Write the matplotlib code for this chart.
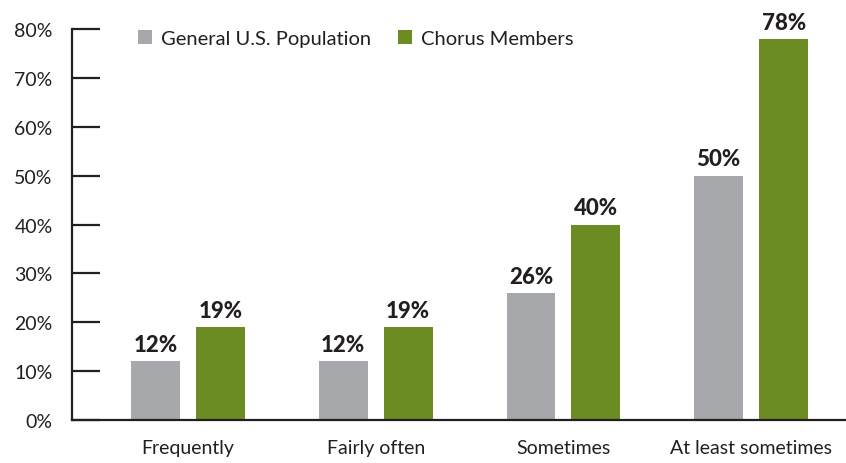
import matplotlib.pyplot as plt
import numpy as np

plt.rcParams['font.family'] = ['Lato', 'DejaVu Sans']

categories = ['Frequently', 'Fairly often', 'Sometimes', 'At least sometimes']
general_pop = [12, 12, 26, 50]
chorus = [19, 19, 40, 78]
series_names = ['General U.S. Population', 'Chorus Members']

GRAY = '#a7a8ab'
GREEN = '#6b8c23'
INK = '#231f20'

fig = plt.figure(figsize=(8.46, 4.64), dpi=100)
ax = fig.add_axes([0.0851, 0.0927, 0.9149, 0.8423])

x = np.arange(len(categories))
w = 0.26
off = 0.173
b1 = ax.bar(x - off, general_pop, w, color=GRAY, label=series_names[0])
b2 = ax.bar(x + off, chorus, w, color=GREEN, label=series_names[1])

for bars, vals in ((b1, general_pop), (b2, chorus)):
    for r, v in zip(bars, vals):
        ax.text(r.get_x() + r.get_width() / 2, v + 1.3, '%d%%' % v,
                ha='center', va='bottom', fontsize=16, fontweight='black', color=INK)

ax.set_xlim(-0.617, 3.505)
ax.set_ylim(0, 80)
ax.set_yticks(range(0, 81, 10))
ax.set_yticklabels(['%d%%' % t for t in range(0, 81, 10)])
ax.set_xticks(x)
ax.set_xticklabels(categories)

for s in ['top', 'right']:
    ax.spines[s].set_visible(False)
for s in ['left', 'bottom']:
    ax.spines[s].set_linewidth(1.6)
    ax.spines[s].set_color(INK)

ax.tick_params(axis='y', direction='in', length=20, width=1.6, color=INK,
               labelsize=14, labelcolor=INK, pad=14)
ax.tick_params(axis='x', length=0, labelsize=14, labelcolor=INK, pad=14)

ax.legend(loc='upper left', bbox_to_anchor=(0.062, 1.045), ncol=2, frameon=False,
          fontsize=14.5, handlelength=0.7, handleheight=0.7, handletextpad=0.45,
          columnspacing=1.3, labelcolor=INK)

fig.savefig('out.png', dpi=100)
